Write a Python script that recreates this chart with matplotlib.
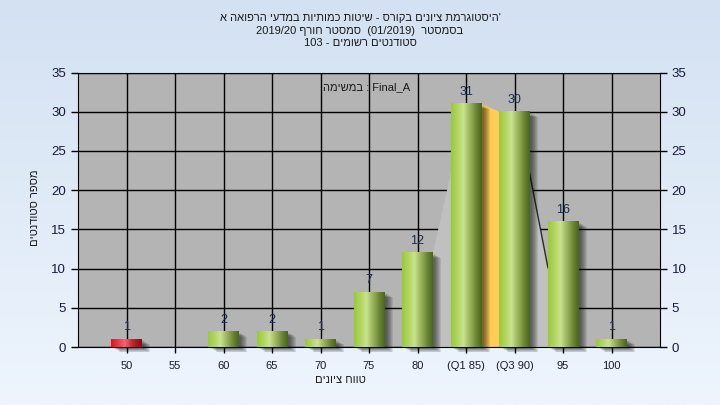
import numpy as np
import matplotlib
matplotlib.use("Agg")
import matplotlib.pyplot as plt
from matplotlib.colors import LinearSegmentedColormap
from matplotlib.patches import Rectangle, Polygon
from matplotlib.transforms import ScaledTranslation

plt.rcParams['font.family'] = ['Liberation Sans', 'DejaVu Sans']

# data
categories = ['50', '55', '60', '65', '70', '75', '80', '(Q1 85)', '(Q3 90)', '95', '100']
counts = [1, 0, 2, 2, 1, 7, 12, 31, 30, 16, 1]
failing = [True, False, False, False, False, False, False, False, False, False, False]
q1_idx, q3_idx = 7, 8
left_conn = [11.8, 22.2]    # lighter band between 80 and Q1
right_conn = [22.2, 10.1]   # lighter band between Q3 and 95

title_lines = [
    "'היסטוגרמת ציונים בקורס - שיטות כמותיות במדעי הרפואה א",
    ("2019/20", "סמסטר חורף", "(01/2019)", "בסמסטר"),
    ("103 -", "סטודנטים רשומים"),
]
task_name = "Final_A"


def rtl(s):
    # matplotlib has no bidi: lay Hebrew out in visual order
    return s[::-1]


W = 0.62
x = np.arange(len(categories))

fig = plt.figure(figsize=(7.2, 4.05), dpi=100)

bg = fig.add_axes([0, 0, 1, 1], zorder=-5)
bg_cmap = LinearSegmentedColormap.from_list("bg", ["#eef5fd", "#d3e1f2"])
bg.imshow(np.linspace(0, 1, 256).reshape(-1, 1)[::-1], aspect="auto", cmap=bg_cmap, extent=[0, 1, 0, 1])
bg.axis("off")

ax = fig.add_axes([78 / 720, 1 - 347 / 405, 582 / 720, 274.5 / 405], zorder=1)
ax.set_facecolor("#b4b4b4")

green = LinearSegmentedColormap.from_list(
    "g", [(0, "#9bc93a"), (0.22, "#b3d665"), (0.4, "#c9e38e"), (0.6, "#9db662"), (0.82, "#6c8734"), (1, "#4a651c")])
red = LinearSegmentedColormap.from_list(
    "r", [(0, "#e3101e"), (0.3, "#f04656"), (0.45, "#f06474"), (0.7, "#c42232"), (1, "#880c12")])
grad = np.linspace(0, 1, 64).reshape(1, -1)

# quartile band (orange) and light connectors
ax.add_patch(Polygon([(q1_idx + W / 2, 0), (q1_idx + W / 2, counts[q1_idx]),
                      (q3_idx - W / 2, counts[q3_idx]), (q3_idx - W / 2, 0)],
                     closed=True, facecolor="#ffcc55", edgecolor="none", zorder=1.5))
ax.add_patch(Polygon([(6 + W / 2, 0), (6 + W / 2, left_conn[0]),
                      (q1_idx - W / 2, left_conn[1]), (q1_idx - W / 2, 0)],
                     closed=True, facecolor="#c0c0c0", edgecolor="none", zorder=1.5))
ax.add_patch(Polygon([(q3_idx + W / 2, 0), (q3_idx + W / 2, right_conn[0]),
                      (9 - W / 2, right_conn[1]), (9 - W / 2, 0)],
                     closed=True, facecolor="#c0c0c0", edgecolor="none", zorder=1.5))
ax.plot([q3_idx + W / 2, 9 - W / 2], right_conn, color="#2a2a2a", lw=1, zorder=1.6)

for xi, v, bad in zip(x, counts, failing):
    if v == 0:
        continue
    # soft drop shadow
    for k in range(1, 8):
        off = ScaledTranslation((1.5 + k) / 100, -(1.0 + k * 0.6) / 100, fig.dpi_scale_trans)
        ax.add_patch(Rectangle((xi - W / 2, 0), W, v, facecolor="black", alpha=0.09,
                               edgecolor="none", transform=ax.transData + off,
                               zorder=2, clip_on=False))
    ax.imshow(grad, cmap=red if bad else green, aspect="auto",
              extent=[xi - W / 2, xi + W / 2, 0, v], zorder=3, interpolation="bilinear")
    ax.annotate(str(v), (xi, v), xytext=(0, 8.5), textcoords="offset points",
                ha="center", va="center", fontsize=9, color="#1c2a4a", zorder=5)

ax.set_xlim(-1, len(categories))
ax.set_ylim(0, 35)
ax.set_xticks(x)
ax.set_xticklabels(categories, fontsize=8, color="#1a1a2a")
ax.set_yticks(range(0, 36, 5))
ax.tick_params(axis="y", labelsize=9.5, labelcolor="#1a1a3a", length=5, width=1,
               right=True, labelright=True, direction="out")
ax.tick_params(axis="x", length=4, width=1, direction="out", pad=6)
ax.grid(True, color="black", lw=1)
ax.set_axisbelow(True)
for s in ax.spines.values():
    s.set_color("black")

ax.text(0.495, 0.945, rtl("במשימה") + " : " + task_name, transform=ax.transAxes,
        ha="center", va="center", fontsize=8, color="#1a1a1a", zorder=6)

fig.text(35 / 720, 1 - 208 / 405, rtl("מספר סטודנטים"), rotation=90,
         ha="center", va="center", fontsize=8, color="#1a1a1a")
fig.text(340 / 720, 1 - 380 / 405, rtl("טווח ציונים"),
         ha="center", va="center", fontsize=8, color="#1a1a1a")

l2 = title_lines[1]
l3 = title_lines[2]
titles = [rtl(title_lines[0]),
          l2[0] + " " + rtl(l2[1]) + "  " + l2[2] + "  " + rtl(l2[3]),
          l3[0] + " " + rtl(l3[1])]
for i, t in enumerate(titles):
    fig.text(360 / 720, 1 - (18 + 12.5 * i) / 405, t, ha="center", va="center",
             fontsize=8, color="#1a1a1a")

fig.savefig("out.png", dpi=100)
